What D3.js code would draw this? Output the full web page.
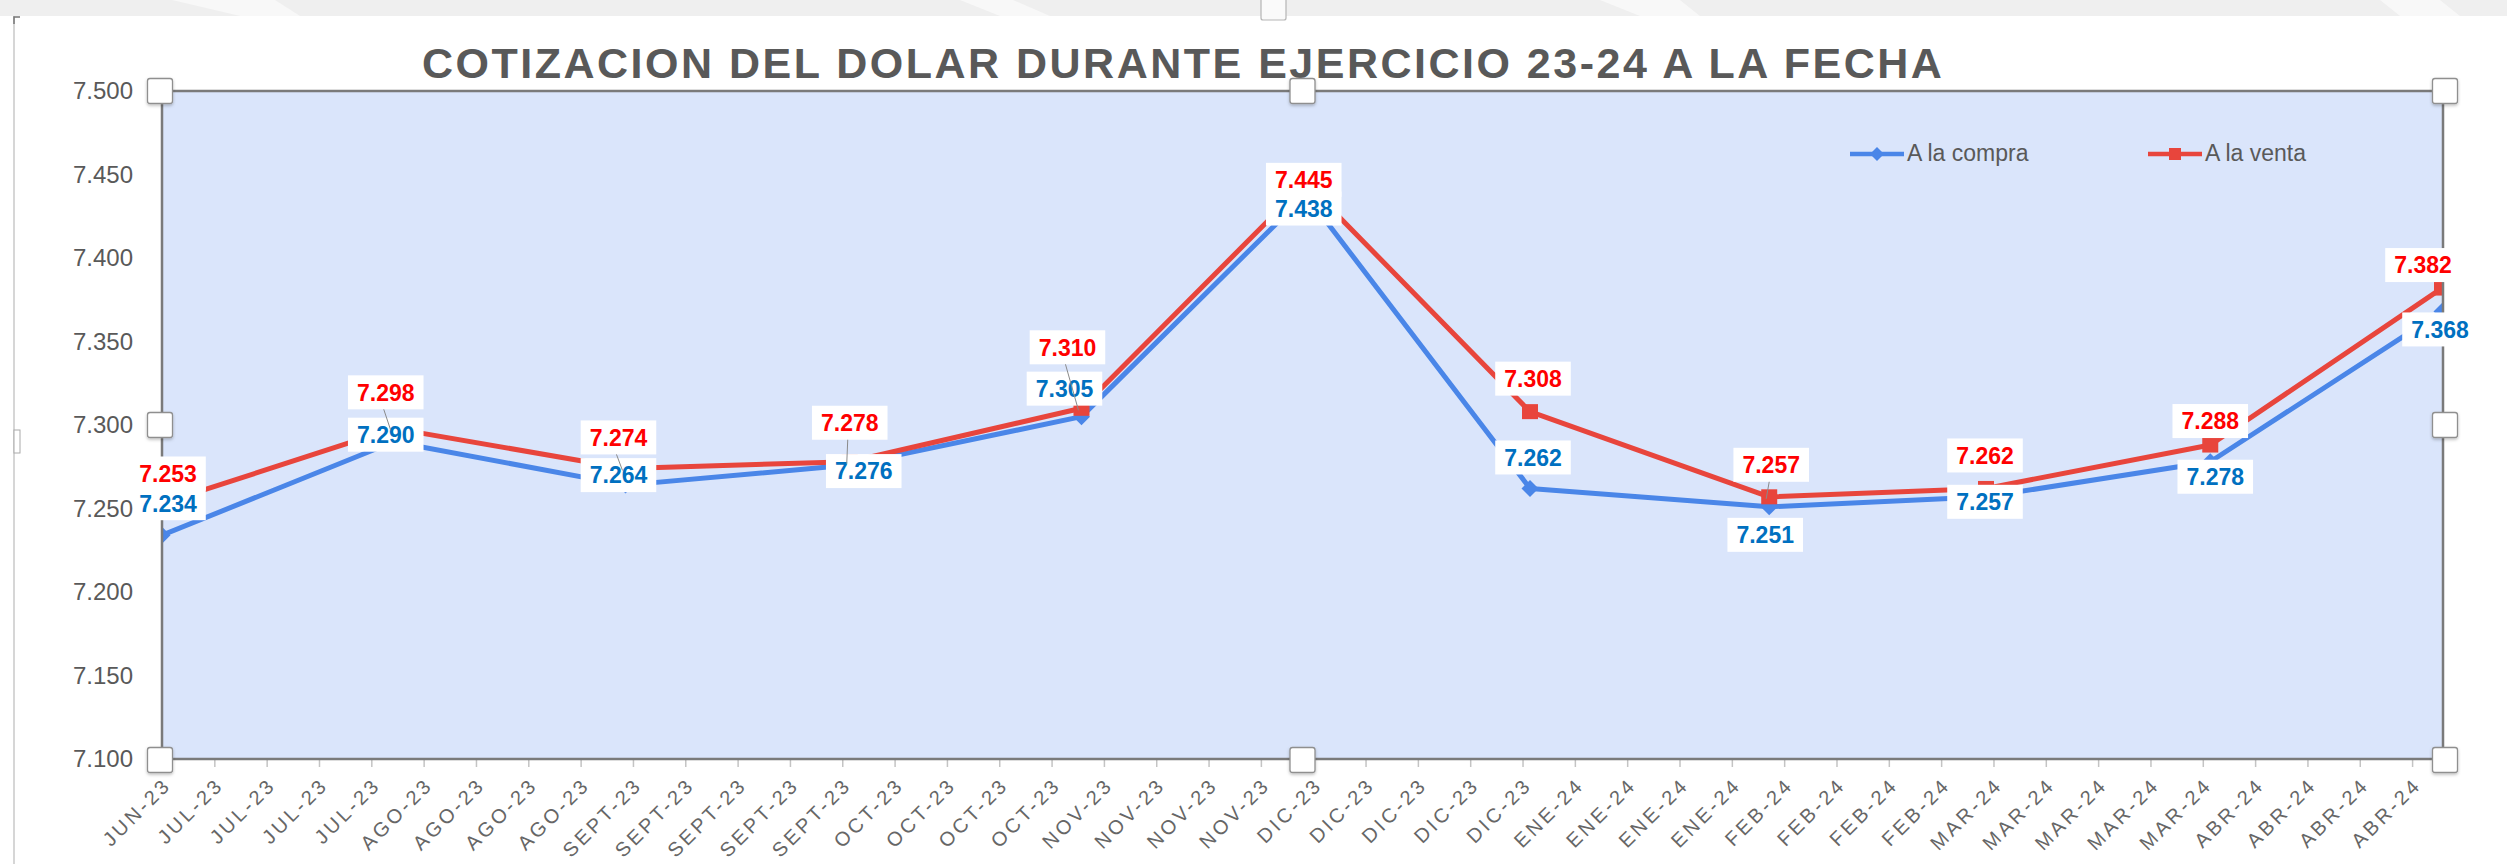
<!DOCTYPE html>
<html><head><meta charset="utf-8">
<script src="https://cdn.jsdelivr.net/npm/d3@7"></script>
<style>
html,body{margin:0;padding:0;background:#fff;overflow:hidden;}
svg{display:block;font-family:"Liberation Sans",Arial,Helvetica,sans-serif;}
</style></head><body>
<svg id="chart" width="2507" height="864"></svg>
<script>
// ---------------- DATA ----------------
const title = "COTIZACION DEL DOLAR DURANTE EJERCICIO 23-24 A LA FECHA";
const seriesNames = ["A la compra", "A la venta"];
const dates  = ["2023-06-30","2023-07-31","2023-08-31","2023-09-30","2023-10-31","2023-11-30",
                "2023-12-30","2024-01-31","2024-02-29","2024-03-30","2024-04-30"];
const compra = [7.234, 7.290, 7.264, 7.276, 7.305, 7.438, 7.262, 7.251, 7.257, 7.278, 7.368];
const venta  = [7.253, 7.298, 7.274, 7.278, 7.310, 7.445, 7.308, 7.257, 7.262, 7.288, 7.382];
const yTickValues = [7.100, 7.150, 7.200, 7.250, 7.300, 7.350, 7.400, 7.450, 7.500];
const xTickLabels = ["JUN-23","JUL-23","JUL-23","JUL-23","JUL-23","AGO-23","AGO-23","AGO-23","AGO-23",
  "SEPT-23","SEPT-23","SEPT-23","SEPT-23","SEPT-23","OCT-23","OCT-23","OCT-23","OCT-23",
  "NOV-23","NOV-23","NOV-23","NOV-23","DIC-23","DIC-23","DIC-23","DIC-23","DIC-23",
  "ENE-24","ENE-24","ENE-24","ENE-24","FEB-24","FEB-24","FEB-24","FEB-24",
  "MAR-24","MAR-24","MAR-24","MAR-24","MAR-24","ABR-24","ABR-24","ABR-24","ABR-24"];
const xTickStart = "2023-06-30";   // weekly date axis, first tick
const xTickStepDays = 7;

// ---------------- LAYOUT (label nudges, px) ----------------
const ventaNudge  = [[6,-30],[-8,-36],[-7,-31],[0,-39],[-14,-61],[-2,-3],[3,-33],[2,-32],[-1,-33],[0,-24],[-19,-23]];
const compraNudge = [[6,-32],[-8,-7],[-7,-10],[14,6],[-17,-28],[-2,14],[3,-31],[-4,28],[-1,5],[5,15],[-2,18]];
const ventaLeader = [false,true,true,true,true,false,false,true,false,false,false];

const C = {
  blue:"#4a86e8", red:"#e8453c", blueText:"#0070c0", redText:"#ff0000",
  text:"#595959", plotFill:"#dae5fb", border:"#7a7a7a"
};
const P = {left:162, right:2443, top:91, bottom:759};

const parse = d3.timeParse("%Y-%m-%d");
const pts = dates.map((d,i)=>({date:parse(d), compra:compra[i], venta:venta[i], i}));

const svg = d3.select("#chart");

// page top band
const band = svg.append("g");
band.append("rect").attr("x",0).attr("y",0).attr("width",2507).attr("height",16).attr("fill","#efefef");
[[172,240,275,300],[960,1000,1013,1050],[1600,1640,1680,1700],[2380,2400,2440,2460]].forEach(s=>{
  band.append("path").attr("d",`M${s[0]},0 L${s[2]},0 L${s[3]},16 L${s[1]},16Z`).attr("fill","#f8f8f8");
});
// chart frame left edge
svg.append("line").attr("x1",14).attr("x2",14).attr("y1",16).attr("y2",864).attr("stroke","#d6d6d6").attr("stroke-width",2);
svg.append("path").attr("d","M14,24 L14,17 L20,17").attr("fill","none").attr("stroke","#777").attr("stroke-width",1.5);
svg.append("rect").attr("x",14).attr("y",430).attr("width",6).attr("height",23).attr("fill","#fff").attr("stroke","#aaa").attr("stroke-width",1);
svg.append("rect").attr("x",1261).attr("y",-6).attr("width",25).attr("height",26).attr("rx",2).attr("fill","#fafafa").attr("stroke","#b5b5b5").attr("stroke-width",1.2);

// scales
const x = d3.scaleTime().domain(d3.extent(pts, d=>d.date)).range([P.left, P.right-1]);
const y = d3.scaleLinear().domain([7.1, 7.5]).range([P.bottom, P.top]);

// shadow filter
const defs = svg.append("defs");
const f = defs.append("filter").attr("id","sh").attr("x","-30%").attr("y","-30%").attr("width","160%").attr("height","160%");
f.append("feDropShadow").attr("dx",0).attr("dy",1.5).attr("stdDeviation",1.5).attr("flood-color","#000").attr("flood-opacity",0.25);
defs.append("clipPath").attr("id","clip").append("rect")
  .attr("x",P.left).attr("y",P.top).attr("width",P.right-P.left).attr("height",P.bottom-P.top);

// plot area
svg.append("rect").attr("x",P.left).attr("y",P.top).attr("width",P.right-P.left).attr("height",P.bottom-P.top)
  .attr("fill",C.plotFill);

// title
const t = svg.append("text").attr("x",422).attr("y",78).attr("font-size",43).attr("font-weight","bold")
  .attr("fill",C.text).text(title);
const natural = t.node().getComputedTextLength();
t.attr("letter-spacing", ((1520 - natural)/(title.length-1)).toFixed(2));

// x axis (weekly date ticks)
const t0 = parse(xTickStart);
const tickDates = xTickLabels.map((_,i)=>d3.timeDay.offset(t0, i*xTickStepDays));
const xAxis = svg.append("g").attr("transform",`translate(0,${P.bottom})`)
  .call(d3.axisBottom(x).tickValues(tickDates).tickSize(8).tickFormat((d,i)=>xTickLabels[i]));
xAxis.select(".domain").remove();
xAxis.selectAll(".tick line").attr("stroke","#c4c4c4").attr("stroke-width",1.5);
xAxis.selectAll(".tick text")
  .attr("x",0).attr("y",0).attr("dy",0)
  .attr("transform","translate(10,27) rotate(-45)")
  .attr("text-anchor","end").attr("font-size",20).attr("letter-spacing",3.2)
  .attr("fill","#666").attr("font-family","'Liberation Sans',Arial,sans-serif");

// lines
const g = svg.append("g").attr("clip-path","url(#clip)");
const lineC = d3.line().x(d=>x(d.date)).y(d=>y(d.compra));
const lineV = d3.line().x(d=>x(d.date)).y(d=>y(d.venta));
g.append("path").datum(pts).attr("d",lineC).attr("fill","none").attr("stroke",C.blue).attr("stroke-width",5).attr("stroke-linejoin","round");
g.append("path").datum(pts).attr("d",lineV).attr("fill","none").attr("stroke",C.red).attr("stroke-width",5).attr("stroke-linejoin","round");
// markers
g.selectAll(".mc").data(pts).join("path").attr("class","mc")
  .attr("transform",d=>`translate(${x(d.date)},${y(d.compra)})`)
  .attr("d","M0,-8.5L8.5,0L0,8.5L-8.5,0Z").attr("fill",C.blue);
g.selectAll(".mv").data(pts).join("rect").attr("class","mv")
  .attr("x",d=>x(d.date)-8).attr("y",d=>y(d.venta)-7.5).attr("width",16).attr("height",15).attr("fill",C.red);

// plot border
svg.append("rect").attr("x",P.left).attr("y",P.top).attr("width",P.right-P.left).attr("height",P.bottom-P.top)
  .attr("fill","none").attr("stroke",C.border).attr("stroke-width",2.5);

// data labels
function drawLabels(key, nudge, color){
  const lg = svg.append("g");
  const grp = lg.selectAll("g").data(pts).join("g")
    .attr("transform",d=>`translate(${x(d.date)+nudge[d.i][0]},${y(d[key])+nudge[d.i][1]})`);
  const rects = grp.append("rect").attr("y",-17).attr("height",34).attr("fill","#fff");
  const texts = grp.append("text").attr("text-anchor","middle").attr("dy","0.36em").attr("font-size",23)
    .attr("font-weight","bold").attr("fill",color).text(d=>d[key].toFixed(3));
  texts.each(function(d,i){
    const w = this.getComputedTextLength() + 18;
    d3.select(rects.nodes()[i]).attr("x",-w/2).attr("width",w);
  });
}
drawLabels("venta", ventaNudge, C.redText);
drawLabels("compra", compraNudge, C.blueText);
// leader lines
svg.append("g").selectAll("line").data(pts.filter(d=>ventaLeader[d.i])).join("line")
  .attr("x1",d=>x(d.date)+ventaNudge[d.i][0]-2).attr("y1",d=>y(d.venta)+ventaNudge[d.i][1]+17)
  .attr("x2",d=>x(d.date)-3).attr("y2",d=>y(d.venta)+2)
  .attr("stroke","#8a8a8a").attr("stroke-width",1);

// y axis (drawn on top of labels)
const yAxis = svg.append("g").attr("transform",`translate(${P.left},0)`)
  .call(d3.axisLeft(y).tickValues(yTickValues).tickSize(0).tickPadding(29).tickFormat(d3.format(".3f")));
yAxis.select(".domain").remove();
yAxis.selectAll("text").attr("font-size",24).attr("fill",C.text).attr("font-family","'Liberation Sans',Arial,sans-serif");

// legend
const leg = svg.append("g");
const legItems = [
  {name:seriesNames[0], color:C.blue, x0:1850, shape:"diamond"},
  {name:seriesNames[1], color:C.red, x0:2148, shape:"square"}
];
legItems.forEach(it=>{
  leg.append("line").attr("x1",it.x0).attr("x2",it.x0+54).attr("y1",154).attr("y2",154)
    .attr("stroke",it.color).attr("stroke-width",4.5);
  if(it.shape==="diamond"){
    leg.append("path").attr("transform",`translate(${it.x0+27},154)`).attr("d","M0,-7L7,0L0,7L-7,0Z").attr("fill",it.color);
  } else {
    leg.append("rect").attr("x",it.x0+21).attr("y",148).attr("width",12).attr("height",12).attr("fill",it.color);
  }
  leg.append("text").attr("x",it.x0+57).attr("y",161).attr("font-size",23).attr("fill",C.text).text(it.name);
});

// selection handles on plot area
const hx = [P.left-2, (P.left+P.right)/2, P.right+2];
const hy = [P.top, (P.top+P.bottom)/2, P.bottom+1];
const handles = [];
hx.forEach((xx,i)=>hy.forEach((yy,j)=>{ if(!(i===1&&j===1)) handles.push([xx,yy]); }));
svg.append("g").selectAll("rect").data(handles).join("rect")
  .attr("x",d=>d[0]-12.5).attr("y",d=>d[1]-12.5).attr("width",25).attr("height",25).attr("rx",2.5)
  .attr("fill","#fff").attr("stroke","#8f8f8f").attr("stroke-width",1.3).attr("filter","url(#sh)");
</script>
</body></html>
